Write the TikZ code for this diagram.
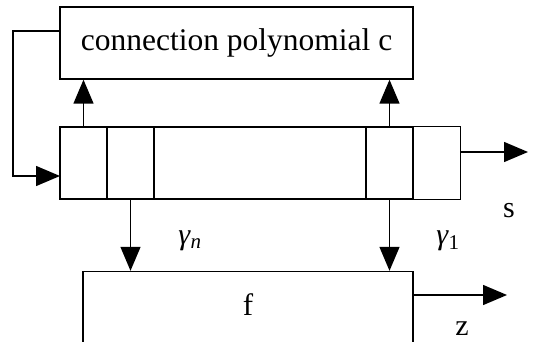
\documentclass[tikz,border=0pt]{standalone}
\usepackage{fontspec}
\setmainfont{Liberation Serif}
\usetikzlibrary{arrows.meta}
\begin{document}
\begin{tikzpicture}[x=1pt,y=-1pt,line width=1.4pt,
  box/.style={draw,line width=1.4pt,inner sep=0pt,minimum height=72pt},
  arr/.style={-{Triangle[width=20pt,length=24pt]},line width=1.4pt},
  lbl/.style={inner sep=0pt,font=\fontsize{30}{30}\selectfont}]
\useasboundingbox (0,0) rectangle (533,342);
\clip (0,0) rectangle (533,342);
% connection polynomial box
\node[box,minimum width=353pt,font=\fontsize{31.5}{36}\selectfont] (conn) at (236.5,43) {connection polynomial c};
% shift register cells
\node[box,minimum width=47pt] (c1) at (83.5,163) {};
\node[box,minimum width=47pt] (c2) at (130.5,163) {};
\node[box,minimum width=212pt] (cm) at (260,163) {};
\node[box,minimum width=47pt] (c4) at (389.5,163) {};
\node[box,minimum width=47pt,line width=1pt] (c5) at (436.5,163) {};
% filter box
\node[box,minimum width=330pt,minimum height=110pt] (f) at (248,326.5) {};
\node[font=\fontsize{31}{36}\selectfont,inner sep=0pt] (ftext) at (248,305) {f};
% connectors
\draw[arr] (c1.north) -- (c1.north |- conn.south);
\draw[arr] (c4.north) -- (c4.north |- conn.south);
\coordinate (fb) at (13,31);
\coordinate (fbin) at (60,176);
\draw[arr] (conn.west |- fb) -- (fb) |- (fbin);
\coordinate (sstart) at (460,152);
\coordinate (send) at (528,152);
\draw[arr] (sstart) -- (send);
\draw[arr] (c2.south) -- (c2.south |- f.north);
\draw[arr] (c4.south) -- (c4.south |- f.north);
\coordinate (zstart) at (413,295);
\coordinate (zend) at (507,295);
\draw[arr] (zstart) -- (zend);
% labels
\node[lbl] (gn) at (190,241) {\textit{γ}\textsubscript{\textit{n}}};
\node[lbl] (g1) at (448,241) {\textit{γ}\textsubscript{1}};
\node[lbl] (s) at (509,211) {s};
\node[lbl] (z) at (462,329) {z};
\end{tikzpicture}
\end{document}
